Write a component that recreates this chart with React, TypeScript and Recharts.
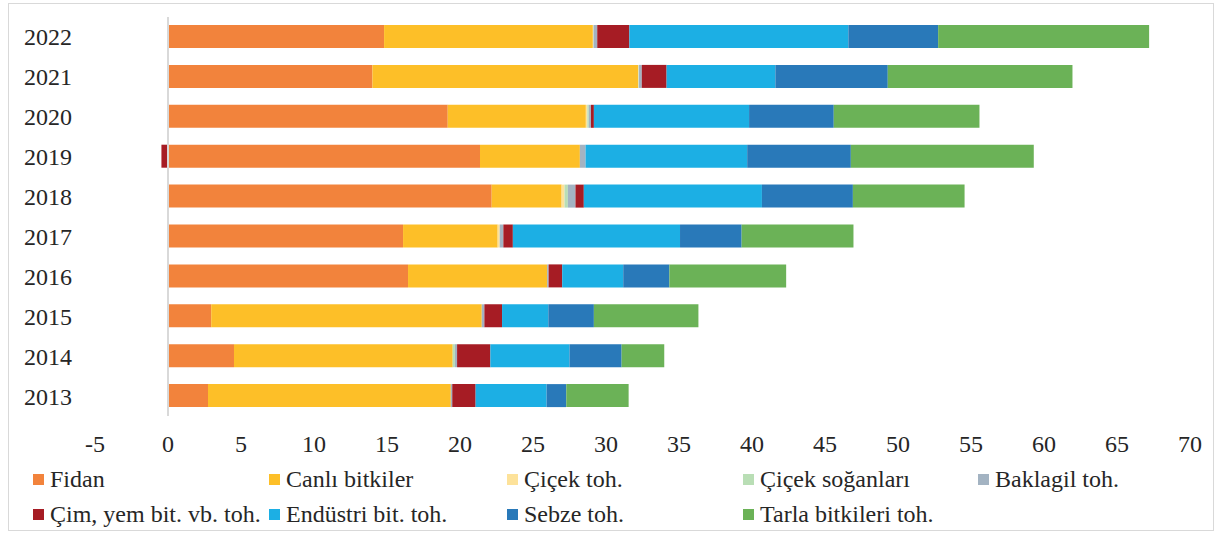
import { BarChart, Bar, XAxis, YAxis, ReferenceLine } from 'recharts';

const years = ['2022', '2021', '2020', '2019', '2018', '2017', '2016', '2015', '2014', '2013'];
const fidan = [14.8, 14.0, 19.16, 21.37, 22.17, 16.1, 16.44, 2.96, 4.52, 2.74];
const canli = [14.3, 18.2, 9.46, 6.84, 4.79, 6.48, 9.53, 18.53, 14.98, 16.63];
const cicekToh = [0.03, 0.03, 0.1, 0, 0.2, 0.14, 0, 0, 0, 0];
const cicekSogan = [0.02, 0.02, 0.1, 0, 0.23, 0, 0, 0, 0.15, 0];
const baklagil = [0.25, 0.2, 0.15, 0.39, 0.52, 0.25, 0.1, 0.18, 0.15, 0.1];
const cim = [2.2, 1.7, 0.2, -0.45, 0.57, 0.65, 0.93, 1.21, 2.28, 1.6];
const endustri = [15.0, 7.45, 10.63, 11.07, 12.2, 11.45, 4.18, 3.17, 5.42, 4.86];
const sebze = [6.15, 7.7, 5.8, 7.1, 6.23, 4.22, 3.16, 3.12, 3.57, 1.35];
const tarla = [14.45, 12.65, 9.98, 12.53, 7.65, 7.66, 8.0, 7.16, 2.92, 4.27];
const xTicks = [-5, 0, 5, 10, 15, 20, 25, 30, 35, 40, 45, 50, 55, 60, 65, 70];

const series = [
    { key: 'fidan', name: 'Fidan', color: '#F2833C', values: fidan },
    { key: 'canli', name: 'Canlı bitkiler', color: '#FDBF28', values: canli },
    { key: 'cicekToh', name: 'Çiçek toh.', color: '#FDE29A', values: cicekToh },
    { key: 'cicekSogan', name: 'Çiçek soğanları', color: '#B9DEB5', values: cicekSogan },
    { key: 'baklagil', name: 'Baklagil toh.', color: '#A3B3C2', values: baklagil },
    { key: 'cim', name: 'Çim, yem bit. vb. toh.', color: '#A61C24', values: cim },
    { key: 'endustri', name: 'Endüstri bit. toh.', color: '#1CAFE4', values: endustri },
    { key: 'sebze', name: 'Sebze toh.', color: '#2979B9', values: sebze },
    { key: 'tarla', name: 'Tarla bitkileri toh.', color: '#6BB257', values: tarla },
];

const data = years.map((year, i) => {
    const row: Record<string, string | number> = { year };
    series.forEach(s => { row[s.key] = s.values[i]; });
    return row;
});

const FONT = '"Liberation Serif", "Times New Roman", serif';
const TEXT = '#262626';

// legend grid: 5 columns, 2 rows
const legendCols = [33, 269, 507, 743, 978];
const legendRows = [480, 515];

export default function App() {
    return (
        <div style={{ position: 'absolute', left: 0, top: 0, width: 1218, height: 533, background: '#fff', fontFamily: FONT }}>
            {/* outer frame */}
            <div style={{ position: 'absolute', left: 8, top: 3, width: 1204, height: 526, border: '1px solid #d9d9d9' }} />
            <BarChart
                width={1218}
                height={533}
                data={data}
                layout="vertical"
                stackOffset="sign"
                barSize={23}
                margin={{ top: 17, right: 28, bottom: 77, left: 0 }}
                style={{ position: 'absolute', left: 0, top: 0 }}
            >
                <XAxis
                    type="number"
                    domain={[-5, 70]}
                    ticks={xTicks}
                    axisLine={false}
                    tickLine={false}
                    tickSize={0}
                    tickMargin={19}
                    height={40}
                    interval={0}
                    tick={{ fontSize: 24, fill: TEXT, fontFamily: FONT }}
                />
                <YAxis
                    type="category"
                    dataKey="year"
                    width={95}
                    axisLine={false}
                    tickLine={false}
                    tickSize={0}
                    tickMargin={23}
                    tick={{ fontSize: 24, fill: TEXT, fontFamily: FONT }}
                />
                <ReferenceLine x={0} stroke="#d9d9d9" strokeWidth={2} />
                {series.map(s => (
                    <Bar key={s.key} dataKey={s.key} name={s.name} stackId="a" fill={s.color} isAnimationActive={false} />
                ))}
            </BarChart>

            {/* Custom legend */}
            {series.map((s, i) => {
                const col = i < 5 ? i : i - 5;
                const row = i < 5 ? 0 : 1;
                const x = legendCols[col];
                const y = legendRows[row];
                return (
                    <div key={s.key}>
                        <div style={{ position: 'absolute', left: x, top: y - 6, width: 11, height: 11, background: s.color }} />
                        <div style={{ position: 'absolute', left: x + 17, top: y - 14, fontSize: 24, lineHeight: '26px', color: TEXT, whiteSpace: 'nowrap' }}>
                            {s.name}
                        </div>
                    </div>
                );
            })}
        </div>
    );
}
